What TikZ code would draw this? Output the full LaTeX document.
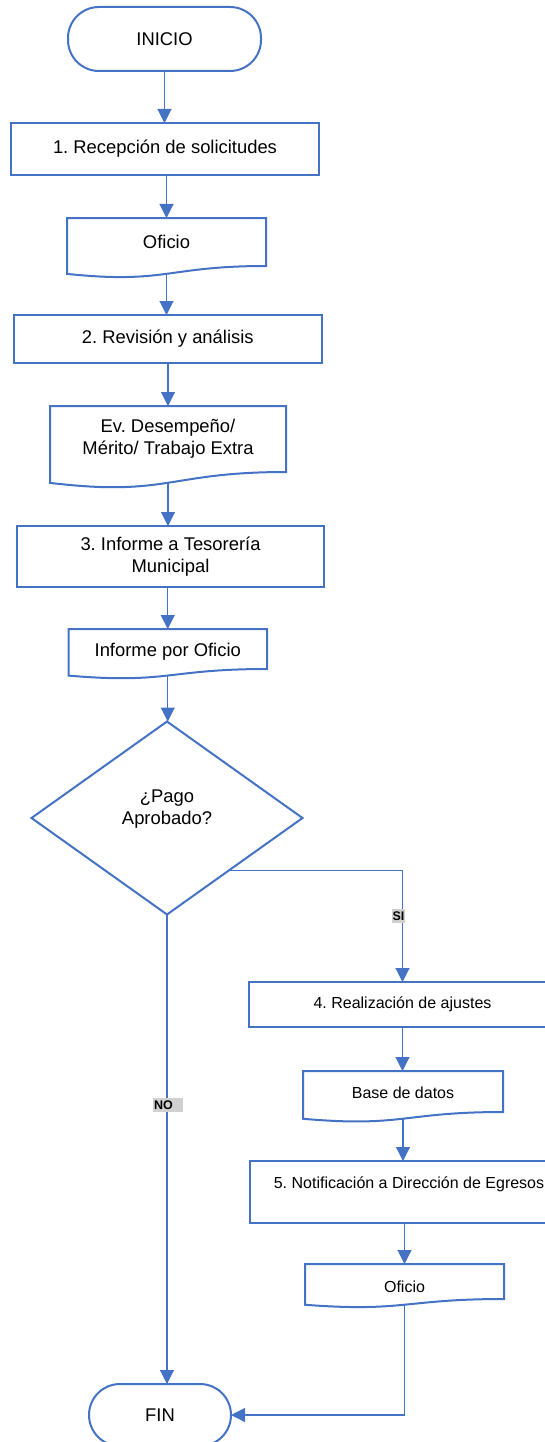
\documentclass[tikz,border=0pt]{standalone}
\usepackage{fontspec}
\setmainfont{Liberation Sans}
\usetikzlibrary{shapes.geometric,arrows.meta,calc}

\definecolor{flowblue}{HTML}{4472C4}
\definecolor{taggray}{HTML}{D0D0D0}

\newcommand\flowfont{\fontsize{18.4}{22}\selectfont}
\newcommand\flowfontsmall{\fontsize{16}{19}\selectfont}
\newcommand\lowered[2]{\raisebox{-#1}[\height][\depth]{#2}}

\tikzset{
  outline/.style={draw=flowblue, line width=2pt, line join=miter},
  procbox/.style={rectangle, outline, inner sep=0pt, outer sep=0pt, align=center, font=\flowfont},
  terminal/.style={rectangle, outline, rounded corners=31pt, inner sep=0pt, outer sep=0pt, font=\flowfont},
  docbody/.style={rectangle, inner sep=0pt, outer sep=0pt, align=center, font=\flowfont},
  decision/.style={diamond, outline, inner sep=0pt, outer sep=0pt, align=center, font=\flowfont},
  flow/.style={draw=flowblue, line width=1.1pt, -{Triangle[length=14pt,width=14pt]}},
  tag/.style={fill=taggray, inner xsep=1pt, inner ysep=2.5pt, font=\fontsize{12.5}{14}\selectfont\bfseries}
}

% document symbol: flat top, wavy bottom below the text body
\newcommand\docoutline[1]{%
  \draw[outline] (#1.north west) -- (#1.north east) -- (#1.south east)
    .. controls (#1.south) and ($(#1.north)!1.380!(#1.south)$)
    .. ($(#1.north west)!1.1646!(#1.south west)$) -- cycle;
  \coordinate (#1-out) at ($(#1.north)!1.163!(#1.south)$);}

\begin{document}
\frenchspacing
\begin{tikzpicture}[x=1pt,y=-1pt]
\useasboundingbox (0,0) rectangle (545,1442);
\clip (0,0) rectangle (545,1442);

% main column
\node[terminal, minimum width=193pt, minimum height=64pt] (inicio) at (164.5,39) {INICIO};
\node[procbox, minimum width=308pt, minimum height=52pt] (p1) at (165,149) {1. Recepción de solicitudes};
\node[docbody, minimum width=199pt, minimum height=48pt] (d1) at (166.5,242) {Oficio};
\docoutline{d1}
\node[procbox, minimum width=307.5pt, minimum height=48pt] (p2) at (167.75,339) {2. Revisión y análisis};
\node[docbody, minimum width=236pt, minimum height=66pt] (d2) at (168,439) {Ev. Desempeño/\\Mérito/ Trabajo Extra};
\docoutline{d2}
\node[procbox, minimum width=307pt, minimum height=61pt] (p3) at (170.5,556.5) {3. Informe a Tesorería\\Municipal};
\node[docbody, minimum width=198.5pt, minimum height=40pt] (d3) at (167.75,649) {\lowered{3pt}{Informe por Oficio}};
\docoutline{d3}
\node[decision, minimum width=271pt, minimum height=193pt] (dec) at (167,818) {¿Pago\\Aprobado?\\\mbox{}};

% approved branch
\node[procbox, font=\flowfontsmall, minimum width=307pt, minimum height=45pt] (p4) at (402.5,1004.5) {4. Realización de ajustes};
\node[docbody, font=\flowfontsmall, minimum width=200pt, minimum height=41pt] (d4) at (403,1091.5) {\lowered{1.5pt}{Base de datos}};
\docoutline{d4}
\node[procbox, font=\flowfontsmall, minimum width=318pt, minimum height=62pt] (p5) at (409,1192) {5. Notificación a Dirección de Egresos\\\mbox{}};
\node[docbody, font=\flowfontsmall, minimum width=199pt, minimum height=35pt] (d5) at (404.5,1281.5) {\lowered{5pt}{Oficio}};
\docoutline{d5}

\node[terminal, minimum width=142pt, minimum height=62pt] (fin) at (160,1415) {FIN};

% connectors
\draw[flow] (inicio.south) -- (inicio.south |- p1.north);
\draw[flow] (p1.south -| d1.north) -- (d1.north);
\draw[flow] (d1-out) -- (d1-out |- p2.north);
\draw[flow] (p2.south -| d2.north) -- (d2.north);
\draw[flow] (d2-out) -- (d2-out |- p3.north);
\draw[flow] (p3.south -| d3.north) -- (d3.north);
\draw[flow] (d3-out) -- (d3-out |- dec.north);

\coordinate (dec-si) at ($(dec.east)!0.54!(dec.south)$);
\draw[flow] (dec-si) -| node[tag, pos=0.705, xshift=-4pt] {SI} (p4.north);
\draw[flow] (dec.south) -- node[tag, pos=0.406, xshift=1pt] {NO\hspace*{9pt}} (dec.south |- fin.north);

\draw[flow] (p4.south) -- (p4.south |- d4.north);
\draw[flow] (d4-out) -- (d4-out |- p5.north);
\draw[flow] (p5.south -| d5.north) -- (d5.north);
\draw[flow] (d5-out) |- (fin.east);
\end{tikzpicture}
\end{document}
